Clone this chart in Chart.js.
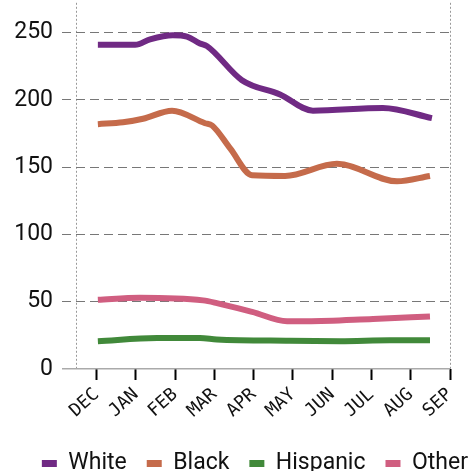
<!DOCTYPE html>
<html>
<head>
<meta charset="utf-8">
<script src="https://cdn.jsdelivr.net/npm/chart.js@4.4.0/dist/chart.umd.min.js"></script>
<style>
  html, body { margin: 0; padding: 0; overflow: hidden; background: #fff; width: 470px; height: 471px; }
  #myChart { position: absolute; left: 0; top: -20px; }
</style>
</head>
<body>
<canvas id="myChart" width="488" height="505"></canvas>
<script>
// month ticks, DEC = 0
var months = ['DEC', 'JAN', 'FEB', 'MAR', 'APR', 'MAY', 'JUN', 'JUL', 'AUG', 'SEP'];
var yTicks = [0, 50, 100, 150, 200, 250];

// [month position, value]
var white = [[0.03, 241], [0.98, 241], [1.36, 245], [1.94, 248], [2.3, 247], [2.63, 242], [2.81, 240],
             [3.7, 214.7], [4.67, 204], [5.51, 192], [7.29, 194], [8.54, 186.5]];
var black = [[0.03, 182], [0.67, 183.4], [1.18, 186], [1.92, 192], [2.76, 182.7], [2.94, 181], [3.4, 164],
             [3.96, 144], [4.8, 143.5], [6.12, 152.5], [7.65, 139.5], [8.49, 143.5]];
var hispanic = [[0.03, 20.7], [1.54, 23], [2.63, 23], [3.06, 22], [4.92, 21], [6.2, 20.7], [7.47, 21.4], [8.49, 21.4]];
var other = [[0.03, 51.5], [1.1, 53], [2.71, 51], [3.06, 49], [3.96, 42.5], [4.85, 35.5], [5.36, 35.5], [7.04, 37.2], [8.49, 39]];

var seriesNames = ['White', 'Black', 'Hispanic', 'Other'];
var seriesColors = ['#702a84', '#c56b4b', '#41893a', '#d05e80'];
var seriesData = [white, black, hispanic, other];

var padLeft = 0;

function toPoints(arr) {
    return arr.map(function (p) { return { x: p[0], y: p[1] }; });
}

function isZero(c) {
    return c.tick && c.tick.value === 0;
}

var ctx = document.getElementById('myChart').getContext('2d');

var myChart = new Chart(ctx, {
    type: 'line',
    data: {
        datasets: seriesNames.map(function (name, i) {
            return {
                label: name,
                data: toPoints(seriesData[i]),
                borderColor: seriesColors[i],
                backgroundColor: seriesColors[i],
                borderWidth: 6,
                pointRadius: 0,
                cubicInterpolationMode: 'monotone',
                fill: false
            };
        })
    },
    options: {
        responsive: false,
        animation: false,
        layout: { padding: { top: 20, left: padLeft, right: 0, bottom: 0 } },
        plugins: {
            tooltip: { enabled: false },
            legend: {
                position: 'bottom',
                align: 'end',
                labels: {
                    boxWidth: 15,
                    boxHeight: 7,
                    padding: 20,
                    color: '#111',
                    font: { family: 'Roboto', size: 23 },
                    generateLabels: function (chart) {
                        var items = Chart.defaults.plugins.legend.labels.generateLabels(chart);
                        items.forEach(function (it) { it.lineWidth = 0; });
                        return items;
                    }
                }
            }
        },
        scales: {
            x: {
                type: 'linear',
                min: -0.527,
                max: 9,
                afterBuildTicks: function (scale) {
                    var vals = [scale.min];
                    months.forEach(function (m, i) { vals.push(i); });
                    scale.ticks = vals.map(function (v) { return { value: v }; });
                },
                ticks: {
                    autoSkip: false,
                    minRotation: 42,
                    maxRotation: 42,
                    padding: 4,
                    color: '#111',
                    font: { family: 'DejaVu Sans Mono', size: 18 },
                    callback: function (value) {
                        return months[value] !== undefined ? months[value] : '';
                    }
                },
                grid: {
                    color: function (c) {
                        return (c.index === 0 || c.index === months.length) ? '#999' : 'rgba(0,0,0,0)';
                    },
                    tickColor: function (c) {
                        return c.index === 0 ? 'rgba(0,0,0,0)' : '#000';
                    },
                    lineWidth: 1,
                    tickWidth: 2,
                    tickLength: 11
                },
                border: { display: false, dash: [2, 2] },
                afterFit: function (scale) { scale.height = 63; }
            },
            y: {
                min: 0,
                max: 272.2,
                afterBuildTicks: function (scale) {
                    scale.ticks = yTicks.map(function (v) { return { value: v }; });
                },
                ticks: {
                    padding: 9,
                    color: '#111',
                    font: { family: 'Roboto', size: 23 }
                },
                grid: {
                    color: function (c) { return isZero(c) ? '#aaa' : '#777'; },
                    tickColor: function (c) { return isZero(c) ? '#aaa' : '#777'; },
                    lineWidth: function (c) { return isZero(c) ? 1.5 : 1; },
                    tickBorderDash: function (c) { return isZero(c) ? [] : [9, 5]; },
                    tickLength: 14
                },
                border: {
                    display: false,
                    dash: function (c) { return isZero(c) ? [] : [9, 5]; }
                },
                afterFit: function (scale) { scale.width = 76 - padLeft; }
            },
            yRight: {
                position: 'right',
                grid: { display: false },
                border: { display: false },
                ticks: { display: false },
                afterFit: function (scale) { scale.width = 38; }
            }
        }
    }
});
</script>
</body>
</html>
